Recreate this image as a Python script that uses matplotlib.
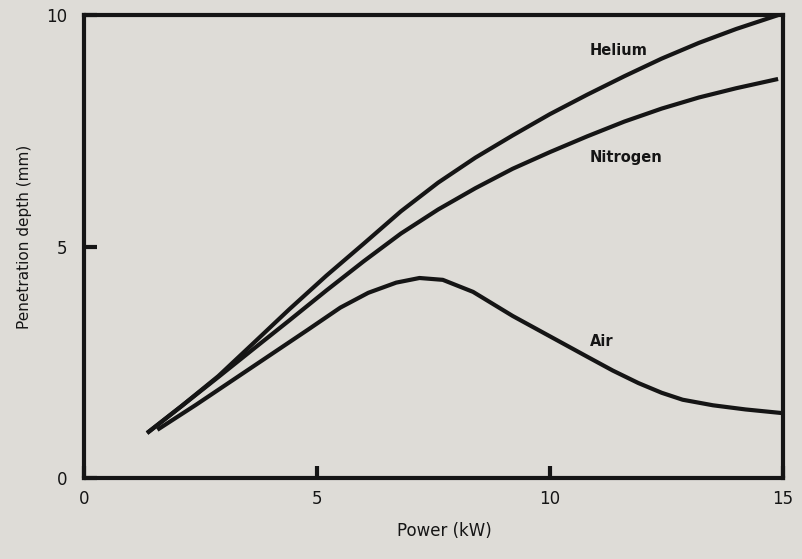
import matplotlib
matplotlib.use("Agg")
import matplotlib.pyplot as plt

# Data
helium_x = [1.35, 2.1, 2.88, 3.6, 4.4, 5.2, 6.0, 6.8, 7.6, 8.4, 9.2, 10.0, 10.8, 11.6, 12.4, 13.2, 14.0, 14.9]
helium_y = [0.97, 1.56, 2.2, 2.88, 3.64, 4.37, 5.06, 5.76, 6.38, 6.92, 7.4, 7.86, 8.28, 8.68, 9.06, 9.4, 9.7, 10.0]

nitrogen_x = [1.35, 2.1, 2.88, 3.6, 4.4, 5.2, 6.0, 6.8, 7.6, 8.4, 9.2, 10.0, 10.8, 11.6, 12.4, 13.2, 14.0, 14.9]
nitrogen_y = [0.97, 1.56, 2.18, 2.76, 3.4, 4.05, 4.68, 5.28, 5.8, 6.26, 6.68, 7.04, 7.38, 7.7, 7.98, 8.22, 8.42, 8.62]

air_x = [1.57, 2.4, 3.2, 4.0, 4.8, 5.5, 6.1, 6.7, 7.2, 7.7, 8.35, 9.2, 10.2, 10.8, 11.35, 11.9, 12.4, 12.85, 13.5, 14.2, 15.0]
air_y = [1.04, 1.58, 2.12, 2.66, 3.2, 3.68, 4.0, 4.22, 4.32, 4.28, 4.02, 3.5, 2.95, 2.62, 2.32, 2.05, 1.84, 1.69, 1.57, 1.48, 1.4]

x_ticks = [0, 5, 10, 15]
y_ticks = [0, 5, 10]

ink = "#151515"
bg = "#dedcd7"
fig = plt.figure(figsize=(8.02, 5.59), dpi=100, facecolor=bg)
ax = fig.add_axes([0.105, 0.145, 0.871, 0.828], facecolor=bg)

for xs, ys in [(helium_x, helium_y), (nitrogen_x, nitrogen_y), (air_x, air_y)]:
    ax.plot(xs, ys, color=ink, lw=3.0, solid_capstyle="butt", solid_joinstyle="round")

ax.set_xlim(0, 15)
ax.set_ylim(0, 10)
ax.set_xticks(x_ticks)
ax.set_yticks(y_ticks)
ax.set_xticklabels([str(v) for v in x_ticks], fontsize=12)
ax.set_yticklabels([str(v) for v in y_ticks], fontsize=12)
for s in ax.spines.values():
    s.set_linewidth(3.0)
    s.set_color(ink)
ax.tick_params(direction="in", length=9, width=3, color=ink, labelcolor=ink)
ax.tick_params(axis="x", pad=9)
ax.tick_params(axis="y", pad=12)

lab = dict(color=ink, fontsize=10.5, fontweight="bold", va="center", ha="left")
ax.text(10.86, 9.24, "Helium", **lab)
ax.text(10.86, 6.93, "Nitrogen", **lab)
ax.text(10.86, 2.94, "Air", **lab)

ax.set_xlabel("Power (kW)", fontsize=12, color=ink)
ax.xaxis.set_label_coords(0.516, -0.095)
ax.set_ylabel("Penetration depth (mm)", fontsize=11, color=ink)
ax.yaxis.set_label_coords(-0.075, 0.52)

fig.savefig("out.png", dpi=100, facecolor=bg)
